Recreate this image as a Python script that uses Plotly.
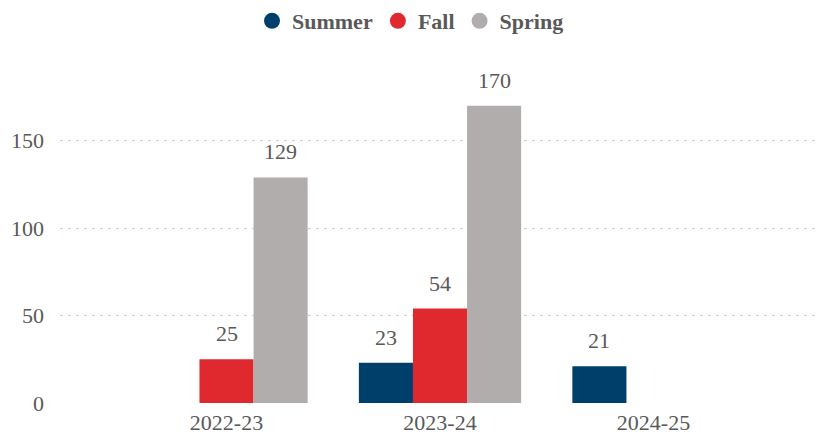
import plotly.graph_objects as go

categories = ["2022-23", "2023-24", "2024-25"]
series_names = ["Summer", "Fall", "Spring"]
summer = [None, 23, 21]
fall = [25, 54, None]
spring = [129, 170, None]
colors = ["#013F6B", "#E0292E", "#B1ADAD"]

font_family = "Liberation Serif"
text_color = "#595959"
bargap = 0.24
series_vals = [summer, fall, spring]
n_series = len(series_vals)
bar_w = (1 - bargap) / n_series

fig = go.Figure()
annotations = []
for si, (name, vals, col) in enumerate(zip(series_names, series_vals, colors)):
    fig.add_trace(go.Bar(
        x=categories, y=vals, name=name, marker_color=col,
        marker_line_width=0, showlegend=False,
    ))
    fig.add_trace(go.Scatter(
        x=[None], y=[None], mode="markers", name=name,
        marker=dict(symbol="circle", size=18, color=col),
    ))
    offset = (si - (n_series - 1) / 2) * bar_w
    for ci, v in enumerate(vals):
        if v is None:
            continue
        annotations.append(dict(
            x=ci + offset, y=v, xref="x", yref="y", text=str(v),
            showarrow=False, yanchor="bottom", yshift=11,
            font=dict(family=font_family, size=22, color=text_color),
        ))

fig.update_layout(
    width=821, height=439,
    margin=dict(l=60, r=1, t=62, b=36),
    paper_bgcolor="white", plot_bgcolor="white",
    barmode="group", bargap=bargap, bargroupgap=0,
    font=dict(family=font_family, size=22, color=text_color),
    annotations=annotations,
    legend=dict(orientation="h", xref="container", x=0.5, xanchor="center",
                yref="container", y=1.0, yanchor="top",
                font=dict(family=font_family, size=22, color=text_color, weight="bold"),
                itemsizing="trace", itemwidth=30, tracegroupgap=0),
    xaxis=dict(range=[-0.78, 2.78], showgrid=False, showline=False, ticks="",
               ticklabelstandoff=4,
               tickfont=dict(family=font_family, size=22, color=text_color)),
    yaxis=dict(range=[0, 195], tickvals=[0, 50, 100, 150], showgrid=True,
               gridcolor="#CCCCCC", griddash="3px,5px", gridwidth=1, zeroline=False,
               showline=False, ticks="", ticklabelstandoff=15,
               tickfont=dict(family=font_family, size=22, color=text_color)),
)
fig.write_html("out.html", config={"displayModeBar": False},
               post_script="document.body.style.margin='0';")
